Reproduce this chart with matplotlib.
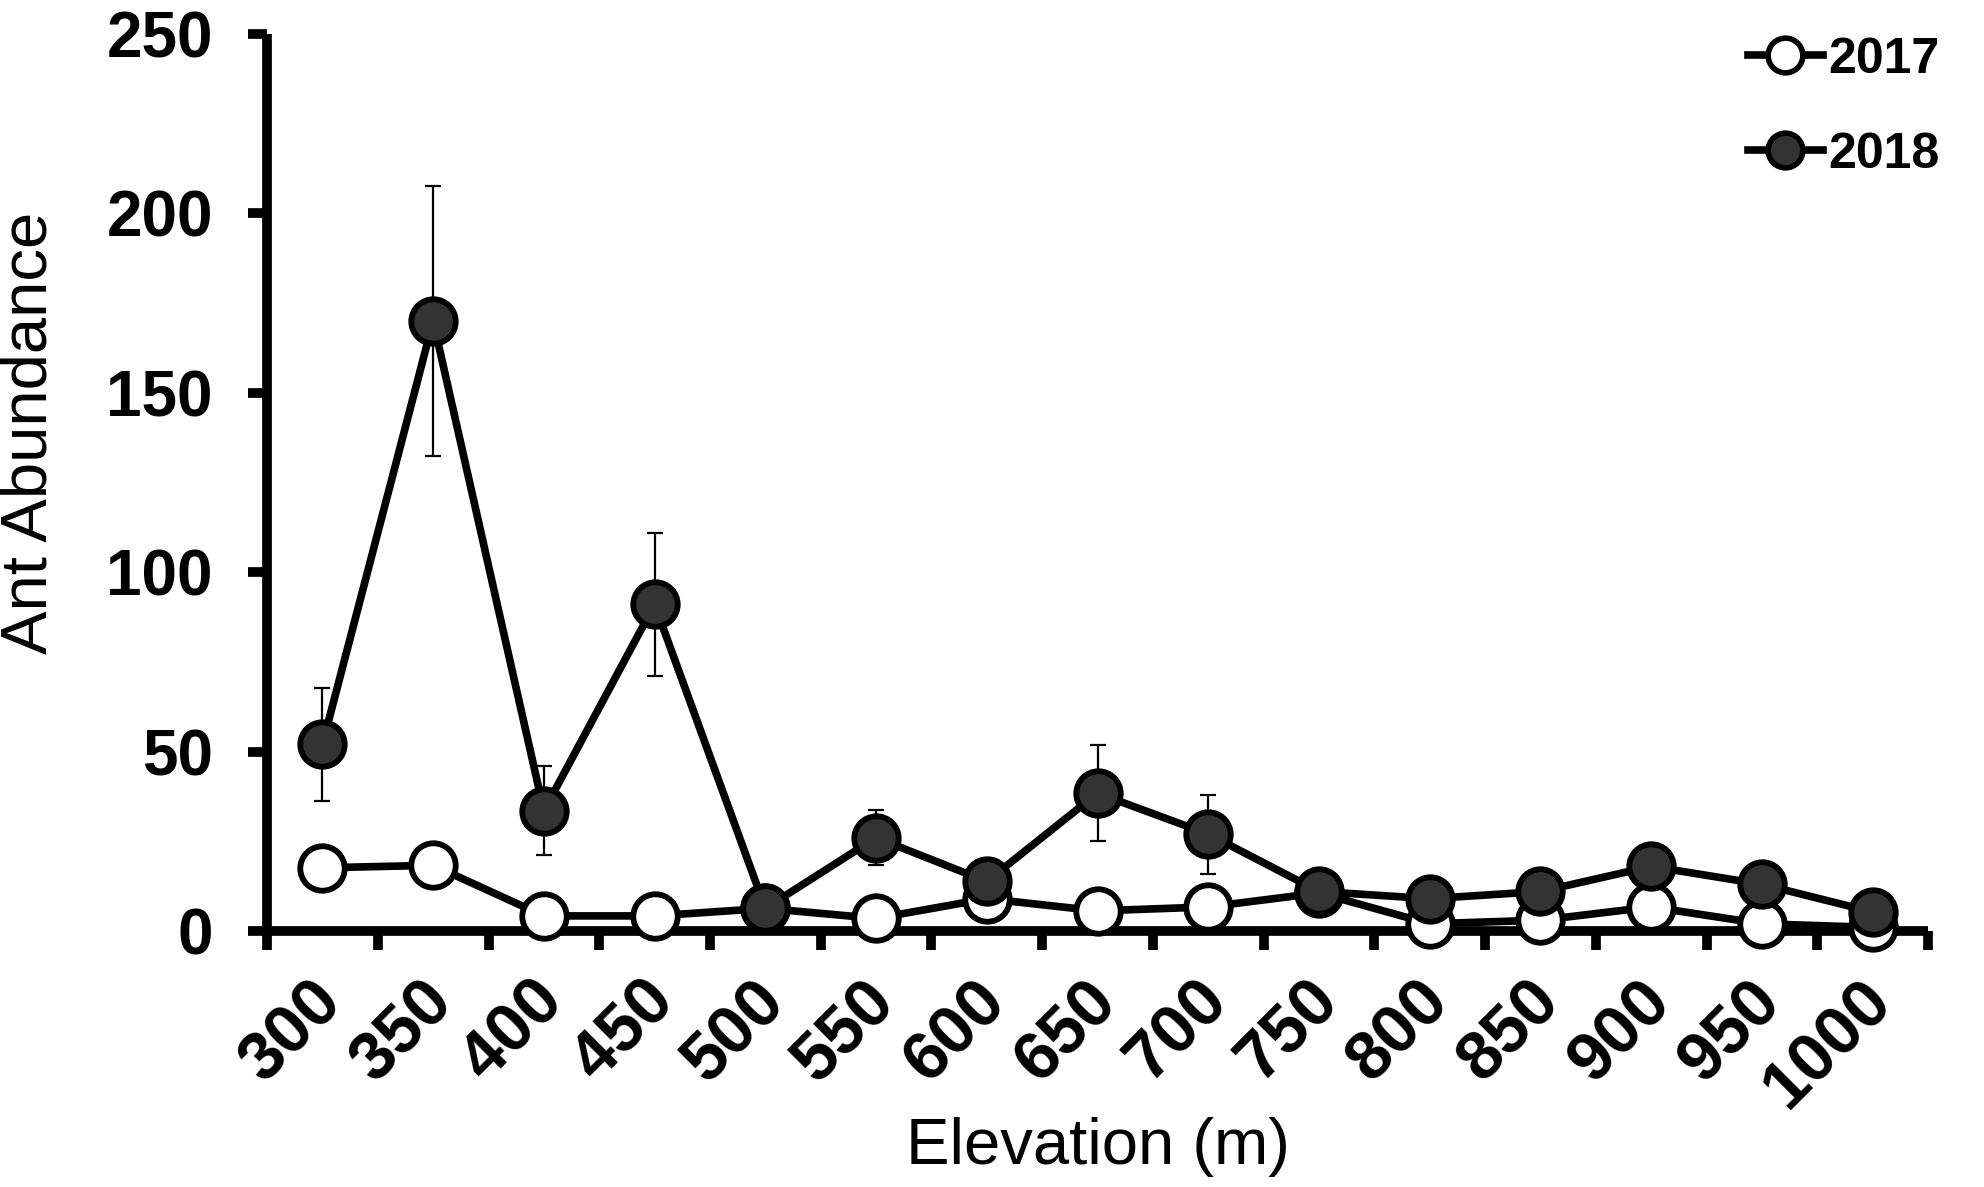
#
# plot.py
#   - Ant abundance along an elevation gradient, 2017 vs 2018.
#

import matplotlib
matplotlib.use("Agg")
import matplotlib.pyplot as plt
from matplotlib.lines import Line2D
from matplotlib.transforms import ScaledTranslation

elevations = ["300", "350", "400", "450", "500", "550", "600", "650",
              "700", "750", "800", "850", "900", "950", "1000"]
abund_2017 = [17.6, 18.3, 4.2, 4.2, 6.3, 3.5, 9.0, 5.6, 6.7, 10.6, 2.0, 3.0, 6.7, 2.0, 1.0]
abund_2018 = [52.0, 170.0, 33.5, 91.0, 6.3, 26.0, 13.8, 38.4, 27.0, 11.0, 9.0, 11.0, 18.0, 13.0, 5.3]
se_2018 = [15.7, 37.5, 12.4, 20.0, 2.0, 7.6, 3.0, 13.4, 11.0, 2.0, 2.0, 2.0, 3.0, 2.0, 1.5]


def main():
    plt.rcParams["font.family"] = ["Liberation Sans", "DejaVu Sans"]

    fig = plt.figure(figsize=(19.84, 11.87), dpi=100)
    ax = fig.add_axes([0.1346, 0.2157, 0.9718 - 0.1346, 0.9714 - 0.2157])

    x = list(range(len(elevations)))

    ax.errorbar(x, abund_2018, yerr=se_2018, fmt="none", ecolor="black",
                elinewidth=1.6, capsize=6, capthick=1.6, zorder=2)

    ax.plot(x, abund_2017, color="black", linewidth=5.5, marker="o", markersize=32,
            markerfacecolor="white", markeredgecolor="black", markeredgewidth=4.2,
            zorder=3, clip_on=False)
    ax.plot(x, abund_2018, color="black", linewidth=5.5, marker="o", markersize=32,
            markerfacecolor="#333333", markeredgecolor="black", markeredgewidth=4.2,
            zorder=4, clip_on=False)

    ax.set_xlim(-0.5, len(elevations) - 0.5)
    ax.set_ylim(0, 250)

    for side in ["top", "right"]:
        ax.spines[side].set_visible(False)
    for side in ["left", "bottom"]:
        ax.spines[side].set_linewidth(7)
        ax.spines[side].set_capstyle("butt")

    # tick marks sit between categories, labels sit under the points
    ax.set_xticks([i - 0.5 for i in range(len(elevations) + 1)])
    ax.set_xticklabels([])
    ax.set_xticks(x, minor=True)
    ax.set_xticklabels(elevations, minor=True, rotation=45, ha="right",
                       fontsize=49, fontweight="bold")
    ax.tick_params(axis="x", which="major", direction="out", length=14, width=7)
    ax.tick_params(axis="x", which="minor", length=0, pad=27)
    offset = ScaledTranslation(0.32, 0, fig.dpi_scale_trans)
    for lbl in ax.get_xticklabels(minor=True):
        lbl.set_transform(lbl.get_transform() + offset)

    ax.set_yticks([0, 50, 100, 150, 200, 250])
    ax.tick_params(axis="y", direction="out", length=14, width=7, pad=25,
                   labelsize=46)
    for lbl in ax.get_yticklabels():
        lbl.set_fontweight("bold")

    ax.set_ylabel("Ant Abundance", fontsize=47)
    ax.yaxis.set_label_coords(-0.125, 0.555)
    ax.set_xlabel("Elevation (m)", fontsize=47, va="top")
    ax.xaxis.set_label_coords(0.5, -0.207)

    handles = [
        Line2D([], [], color="black", linewidth=5.5, marker="o", markersize=25,
               markerfacecolor="white", markeredgecolor="black", markeredgewidth=4),
        Line2D([], [], color="black", linewidth=5.5, marker="o", markersize=25,
               markerfacecolor="#333333", markeredgecolor="black", markeredgewidth=4),
    ]
    fig.legend(handles, ["2017", "2018"], loc="upper right",
               bbox_to_anchor=(0.99, 0.99), frameon=False,
               prop={"size": 36, "weight": "bold"}, handlelength=1.5,
               handletextpad=0.1, labelspacing=0.98, borderpad=0)

    fig.savefig("out.png", dpi=100)


if __name__ == '__main__':
    main()
